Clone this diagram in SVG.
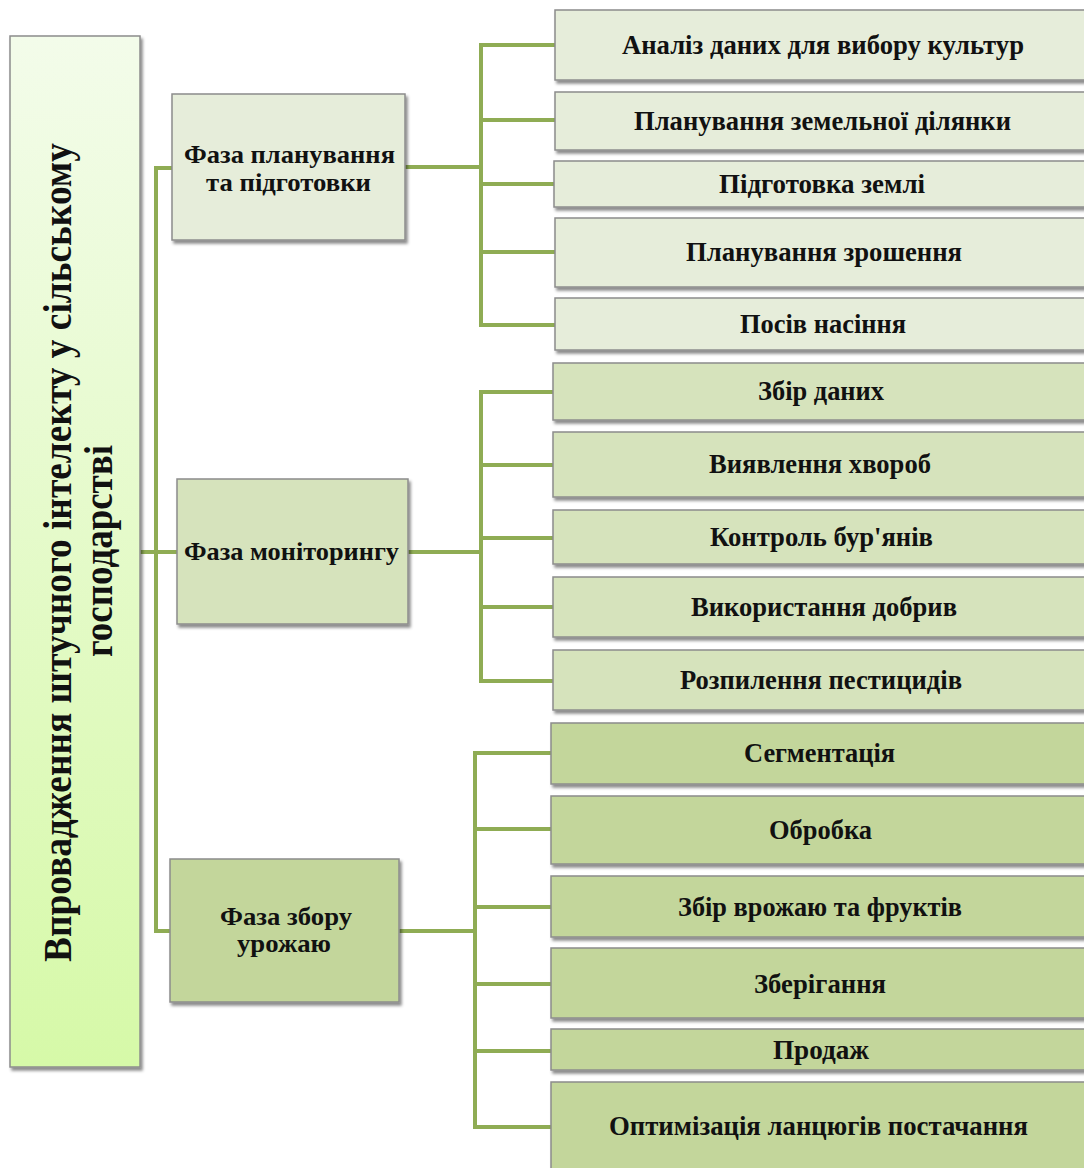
<svg xmlns="http://www.w3.org/2000/svg" width="1084" height="1168" viewBox="0 0 1084 1168">
<defs>
<linearGradient id="rootGrad" x1="0" y1="0" x2="0" y2="1">
<stop offset="0" stop-color="#F3FCEA"/>
<stop offset="1" stop-color="#D6F9A8"/>
</linearGradient>
<filter id="shadow" x="-5%" y="-10%" width="115%" height="130%">
<feDropShadow dx="2" dy="3" stdDeviation="1.6" flood-color="#000" flood-opacity="0.45"/>
</filter>
<style>
.box{stroke:#8C8C8C;stroke-width:1.5;filter:url(#shadow)}
.p{fill:#E6EDDA}
.m{fill:#D6E3BC}
.h{fill:#C3D69B}
.t{font-family:"Liberation Serif","Times New Roman",serif;font-weight:bold;fill:#111;text-anchor:middle}
.t3{font-size:27px}
.t2{font-size:26px}
.t1{font-size:41px}
.conn{fill:none;stroke:#8FAC54;stroke-width:4}
</style>
</defs>
<rect width="1084" height="1168" fill="#FFFFFF"/>
<g id="connectors">
<path class="conn" d="M172,168 H156 V931 H170"/>
<path class="conn" d="M140,552 H177"/>
<path class="conn" d="M405,167 H481"/>
<path class="conn" d="M555,45 H481 V325 H555 M481,120 H555 M481,184 H554 M481,252 H555"/>
<path class="conn" d="M408,552 H481"/>
<path class="conn" d="M553,392 H481 V681 H553 M481,465 H553 M481,538 H553 M481,607 H553"/>
<path class="conn" d="M399,931 H475"/>
<path class="conn" d="M551,753 H475 V1127 H551 M475,829 H551 M475,907 H551 M475,984 H551 M475,1051 H551"/>
</g>
<g id="root">
<rect class="box" x="10" y="36" width="130" height="1031" fill="url(#rootGrad)"/>
<text class="t t1" transform="translate(71,552.5) rotate(-90)" textLength="819" lengthAdjust="spacingAndGlyphs">Впровадження штучного інтелекту у сільському</text>
<text class="t t1" transform="translate(112,551) rotate(-90)" textLength="212" lengthAdjust="spacingAndGlyphs">господарстві</text>
</g>
<g id="phase-planning">
<rect class="box p" x="172" y="94" width="233" height="146"/>
<text class="t t2" x="289.5" y="163" textLength="211" lengthAdjust="spacingAndGlyphs">Фаза планування</text>
<text class="t t2" x="288.5" y="191" textLength="165" lengthAdjust="spacingAndGlyphs">та підготовки</text>
</g>
<g id="phase-monitoring">
<rect class="box m" x="177" y="479" width="231" height="145"/>
<text class="t t2" x="291.5" y="560" textLength="215" lengthAdjust="spacingAndGlyphs">Фаза моніторингу</text>
</g>
<g id="phase-harvest">
<rect class="box h" x="170" y="859" width="229" height="143"/>
<text class="t t2" x="286" y="925" textLength="132" lengthAdjust="spacingAndGlyphs">Фаза збору</text>
<text class="t t2" x="284" y="952" textLength="94" lengthAdjust="spacingAndGlyphs">урожаю</text>
</g>
<g id="p1"><rect class="box p" x="555" y="10" width="540" height="70"/><text class="t t3" x="823" y="54" textLength="402" lengthAdjust="spacingAndGlyphs">Аналіз даних для вибору культур</text></g>
<g id="p2"><rect class="box p" x="555" y="92" width="540" height="58"/><text class="t t3" x="822.5" y="130" textLength="377" lengthAdjust="spacingAndGlyphs">Планування земельної ділянки</text></g>
<g id="p3"><rect class="box p" x="554" y="161" width="540" height="46"/><text class="t t3" x="822" y="193" textLength="206" lengthAdjust="spacingAndGlyphs">Підготовка землі</text></g>
<g id="p4"><rect class="box p" x="555" y="218" width="540" height="69"/><text class="t t3" x="824" y="261" textLength="276" lengthAdjust="spacingAndGlyphs">Планування зрошення</text></g>
<g id="p5"><rect class="box p" x="555" y="298" width="540" height="52"/><text class="t t3" x="823" y="333" textLength="166" lengthAdjust="spacingAndGlyphs">Посів насіння</text></g>
<g id="m1"><rect class="box m" x="553" y="363" width="540" height="57"/><text class="t t3" x="821" y="400" textLength="126" lengthAdjust="spacingAndGlyphs">Збір даних</text></g>
<g id="m2"><rect class="box m" x="553" y="432" width="540" height="65"/><text class="t t3" x="820" y="473" textLength="222" lengthAdjust="spacingAndGlyphs">Виявлення хвороб</text></g>
<g id="m3"><rect class="box m" x="553" y="510" width="540" height="54"/><text class="t t3" x="821.5" y="546" textLength="223" lengthAdjust="spacingAndGlyphs">Контроль бур'янів</text></g>
<g id="m4"><rect class="box m" x="553" y="577" width="540" height="60"/><text class="t t3" x="824" y="616" textLength="266" lengthAdjust="spacingAndGlyphs">Використання добрив</text></g>
<g id="m5"><rect class="box m" x="553" y="650" width="540" height="60"/><text class="t t3" x="821" y="689" textLength="282" lengthAdjust="spacingAndGlyphs">Розпилення пестицидів</text></g>
<g id="h1"><rect class="box h" x="551" y="723" width="540" height="61"/><text class="t t3" x="819.5" y="762" textLength="151" lengthAdjust="spacingAndGlyphs">Сегментація</text></g>
<g id="h2"><rect class="box h" x="551" y="796" width="540" height="68"/><text class="t t3" x="820.5" y="839" textLength="103" lengthAdjust="spacingAndGlyphs">Обробка</text></g>
<g id="h3"><rect class="box h" x="551" y="876" width="540" height="61"/><text class="t t3" x="820" y="916" textLength="284" lengthAdjust="spacingAndGlyphs">Збір врожаю та фруктів</text></g>
<g id="h4"><rect class="box h" x="551" y="948" width="540" height="70"/><text class="t t3" x="820" y="993" textLength="132" lengthAdjust="spacingAndGlyphs">Зберігання</text></g>
<g id="h5"><rect class="box h" x="551" y="1029" width="540" height="41"/><text class="t t3" x="821" y="1059" textLength="96" lengthAdjust="spacingAndGlyphs">Продаж</text></g>
<g id="h6"><rect class="box h" x="551" y="1082" width="540" height="110"/><text class="t t3" x="818.5" y="1135" textLength="419" lengthAdjust="spacingAndGlyphs">Оптимізація  ланцюгів постачання</text></g>
</svg>
